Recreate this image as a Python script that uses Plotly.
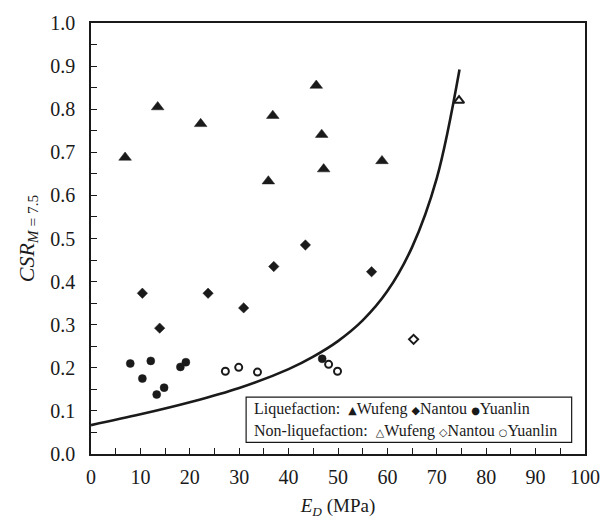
import plotly.graph_objects as go

# ---- data ----
liq_wufeng_x = [6.9, 13.5, 22.2, 35.9, 36.8, 45.6, 46.7, 47.1, 58.9]
liq_wufeng_y = [0.688, 0.805, 0.766, 0.633, 0.785, 0.855, 0.741, 0.661, 0.680]

liq_nantou_x = [10.4, 13.9, 23.7, 30.9, 37.0, 43.4, 56.8]
liq_nantou_y = [0.373, 0.292, 0.373, 0.339, 0.435, 0.485, 0.423]

liq_yuanlin_x = [7.95, 10.4, 12.1, 13.3, 14.8, 18.1, 19.2, 46.8]
liq_yuanlin_y = [0.210, 0.175, 0.216, 0.138, 0.154, 0.202, 0.213, 0.221]

non_wufeng_x = [74.5]
non_wufeng_y = [0.820]

non_nantou_x = [65.3]
non_nantou_y = [0.266]

non_yuanlin_x = [27.2, 29.9, 33.7, 48.1, 49.9]
non_yuanlin_y = [0.192, 0.201, 0.190, 0.208, 0.192]

curve_x = [0, 10, 20, 30, 40, 45, 50, 55, 60, 65, 70, 74.6]
curve_y = [0.067, 0.092, 0.120, 0.153, 0.197, 0.226, 0.262, 0.310, 0.378, 0.480, 0.640, 0.892]

x_ticks = list(range(0, 101, 10))
y_ticks = [round(i * 0.1, 1) for i in range(11)]

legend_rows = [
    ("Liquefaction:", [("▲", "Wufeng"), ("◆", "Nantou"), ("●", "Yuanlin")]),
    ("Non-liquefaction:", [("△", "Wufeng"), ("◇", "Nantou"), ("○", "Yuanlin")]),
]

INK = "#1a1a1a"
FONT = "Liberation Serif"

fig = go.Figure()

fig.add_trace(go.Scatter(x=curve_x, y=curve_y, mode="lines",
                         line=dict(color=INK, width=2.6, shape="spline", smoothing=1.0),
                         showlegend=False, name="Boundary"))

def add_pts(xs, ys, symbol, size, lw, name):
    fig.add_trace(go.Scatter(x=xs, y=ys, mode="markers", name=name, showlegend=False,
                             marker=dict(symbol=symbol, size=size, color=INK,
                                         line=dict(color=INK, width=lw))))

add_pts(liq_wufeng_x, liq_wufeng_y, "triangle-up", 11, 0.5, "Liquefaction Wufeng")
add_pts(liq_nantou_x, liq_nantou_y, "diamond", 8, 0.5, "Liquefaction Nantou")
add_pts(liq_yuanlin_x, liq_yuanlin_y, "circle", 8, 0.5, "Liquefaction Yuanlin")
add_pts(non_wufeng_x, non_wufeng_y, "triangle-up-open", 9, 2, "Non-liquefaction Wufeng")
add_pts(non_nantou_x, non_nantou_y, "diamond-open", 7, 2, "Non-liquefaction Nantou")
add_pts(non_yuanlin_x, non_yuanlin_y, "circle-open", 7, 2, "Non-liquefaction Yuanlin")

# legend box
fig.add_shape(type="rect", xref="paper", yref="paper", x0=0.314, x1=0.973, y0=0.027, y1=0.132,
              line=dict(color=INK, width=1.2), fillcolor="white")

row_y = [0.105, 0.054]
for (title, items), yy in zip(legend_rows, row_y):
    parts = [title, ""]
    for sym, lab in items:
        sz = 10 if sym in ("●", "○") else 11
        parts.append('<span style="font-family:DejaVu Sans;font-size:%dpx">%s</span>%s' % (sz, sym, lab))
    text = " ".join(parts)
    fig.add_annotation(xref="paper", yref="paper", x=0.326, y=yy, xanchor="left", yanchor="middle",
                       text=text, showarrow=False, font=dict(family=FONT, size=16, color=INK))

axis_common = dict(showline=True, linecolor=INK, linewidth=1.5, mirror=True,
                   ticks="inside", ticklen=6, tickwidth=1.2, tickcolor=INK,
                   showgrid=False, zeroline=False,
                   tickfont=dict(family=FONT, size=20, color=INK))

fig.update_xaxes(range=[0, 100], tickvals=x_ticks, ticklabelstandoff=4,
                 minor=dict(ticks="inside", ticklen=6, tickwidth=1.2, tickcolor=INK, dtick=5),
                 title=dict(text="<i>E</i><sub><i>D</i></sub> (MPa)", font=dict(family=FONT, size=19, color=INK),
                            standoff=12),
                 **axis_common)
fig.update_yaxes(range=[0, 1.0], tickvals=y_ticks, tickformat=".1f", ticklabelstandoff=10,
                 minor=dict(ticks="inside", ticklen=6, tickwidth=1.2, tickcolor=INK, dtick=0.05),
                 title=dict(text='<i>CSR</i><sub><i>M</i> = 7.5</sub>', font=dict(family=FONT, size=22, color=INK),
                            standoff=10),
                 **axis_common)

fig.update_layout(width=613, height=525, margin=dict(l=91, r=28, t=15, b=70),
                  plot_bgcolor="white", paper_bgcolor="white",
                  font=dict(family=FONT, color=INK))

fig.write_html("out.html")
